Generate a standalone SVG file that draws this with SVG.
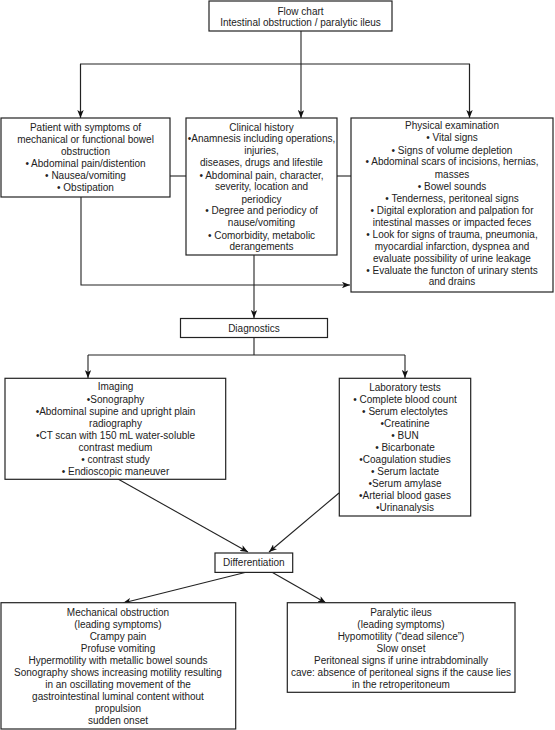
<svg xmlns="http://www.w3.org/2000/svg" width="555" height="730" viewBox="0 0 555 730">
<defs>
<marker id="ah" viewBox="0 0 10 8" refX="10" refY="4" markerWidth="8" markerHeight="6.4" orient="auto" markerUnits="userSpaceOnUse">
<path d="M0,0 L10,4 L0,8 L2.5,4 z" fill="#111"/>
</marker>
<style>
.box{fill:#fff;stroke:#222;stroke-width:1.2}
.t{font-family:"Liberation Sans",Arial,sans-serif;font-size:10px;fill:#222;text-anchor:middle}
.c{fill:none;stroke:#222;stroke-width:1.1}
.a{marker-end:url(#ah)}
</style>
</defs>
<rect width="555" height="730" fill="#fff"/>
<g id="connectors">
<path class="c" d="M301,31 V64"/>
<path class="c" d="M80.5,118 V64 H469.5 V118"/>
<path class="c a" d="M80.5,64 V118"/>
<path class="c a" d="M301,64 V118"/>
<path class="c a" d="M469.5,64 V118"/>
<path class="c" d="M170,176 H186"/>
<path class="c" d="M337,176 H351"/>
<path class="c a" d="M81,197 V285 H350"/>
<path class="c a" d="M254,255 V318"/>
<path class="c" d="M254,338 V355 H88 M254,355 H405"/>
<path class="c a" d="M88,355 V378"/>
<path class="c a" d="M405,355 V378"/>
<path class="c a" d="M118,479 L248,552"/>
<path class="c a" d="M339,493 L269,552"/>
<path class="c a" d="M245,572.5 L123,603"/>
<path class="c a" d="M272.5,572.5 L326,603"/>
</g>
<g id="title">
<rect class="box" x="209" y="1" width="183" height="30"/>
<text class="t" x="300.5" y="14.5">Flow chart</text>
<text class="t" x="300.5" y="25.5">Intestinal obstruction / paralytic ileus</text>
</g>
<g id="patient">
<rect class="box" x="1" y="118" width="169" height="79"/>
<text class="t" x="85.5" y="130.5">Patient with symptoms of</text>
<text class="t" x="85.5" y="142.5">mechanical or functional bowel</text>
<text class="t" x="85.5" y="154.5">obstruction</text>
<text class="t" x="85.5" y="166.5">• Abdominal pain/distention</text>
<text class="t" x="85.5" y="178.5">• Nausea/vomiting</text>
<text class="t" x="85.5" y="190.5">• Obstipation</text>
</g>
<g id="clinical">
<rect class="box" x="186" y="118" width="151" height="137"/>
<text class="t" x="261.5" y="130.5">Clinical history</text>
<text class="t" x="261.5" y="142.2">•Anamnesis including operations,</text>
<text class="t" x="261.5" y="154.2">injuries,</text>
<text class="t" x="261.5" y="166">diseases, drugs and lifestile</text>
<text class="t" x="261.5" y="178.5">• Abdominal pain, character,</text>
<text class="t" x="261.5" y="190.2">severity, location and</text>
<text class="t" x="261.5" y="202.5">periodicy</text>
<text class="t" x="261.5" y="214.2">• Degree and periodicy of</text>
<text class="t" x="261.5" y="226.2">nause/vomiting</text>
<text class="t" x="261.5" y="238.5">• Comorbidity, metabolic</text>
<text class="t" x="261.5" y="250.2">derangements</text>
</g>
<g id="physical">
<rect class="box" x="351" y="118" width="202" height="174"/>
<text class="t" x="452" y="129.2">Physical examination</text>
<text class="t" x="452" y="140.8">• Vital signs</text>
<text class="t" x="452" y="153.5">• Signs of volume depletion</text>
<text class="t" x="452" y="165.2">• Abdominal scars of incisions, hernias,</text>
<text class="t" x="452" y="177.8">masses</text>
<text class="t" x="452" y="189.5">• Bowel sounds</text>
<text class="t" x="452" y="201.8">• Tenderness, peritoneal signs</text>
<text class="t" x="452" y="213.5">• Digital exploration and palpation for</text>
<text class="t" x="452" y="225.8">intestinal masses or impacted feces</text>
<text class="t" x="452" y="237.8">• Look for signs of trauma, pneumonia,</text>
<text class="t" x="452" y="249.5">myocardial infarction, dyspnea and</text>
<text class="t" x="452" y="261.5">evaluate possibility of urine leakage</text>
<text class="t" x="452" y="273.5">• Evaluate the functon of urinary stents</text>
<text class="t" x="452" y="285.2">and drains</text>
</g>
<g id="diagnostics">
<rect class="box" x="180.5" y="318.5" width="147" height="19"/>
<text class="t" x="254" y="331.5">Diagnostics</text>
</g>
<g id="imaging">
<rect class="box" x="5" y="378.3" width="220.7" height="101"/>
<text class="t" x="115.5" y="390.2">Imaging</text>
<text class="t" x="115.5" y="402.5">•Sonography</text>
<text class="t" x="115.5" y="414.5">•Abdominal supine and upright plain</text>
<text class="t" x="115.5" y="426.8">radiography</text>
<text class="t" x="115.5" y="438.5">•CT scan with 150 mL water-soluble</text>
<text class="t" x="115.5" y="450.8">contrast medium</text>
<text class="t" x="115.5" y="462.8">• contrast study</text>
<text class="t" x="115.5" y="474.5">• Endioscopic maneuver</text>
</g>
<g id="lab">
<rect class="box" x="339.3" y="378.3" width="131.4" height="137.7"/>
<text class="t" x="405" y="390.8">Laboratory tests</text>
<text class="t" x="405" y="402.8">• Complete blood count</text>
<text class="t" x="405" y="415.2">• Serum electolytes</text>
<text class="t" x="405" y="426.8">•Creatinine</text>
<text class="t" x="405" y="439.2">• BUN</text>
<text class="t" x="405" y="450.8">• Bicarbonate</text>
<text class="t" x="405" y="462.8">•Coagulation studies</text>
<text class="t" x="405" y="474.5">• Serum lactate</text>
<text class="t" x="405" y="486.8">•Serum amylase</text>
<text class="t" x="405" y="498.8">•Arterial blood gases</text>
<text class="t" x="405" y="510.8">•Urinanalysis</text>
</g>
<g id="differentiation">
<rect class="box" x="215" y="553" width="77.7" height="19.4"/>
<text class="t" x="253.8" y="566">Differentiation</text>
</g>
<g id="mechanical">
<rect class="box" x="1" y="602.7" width="234.7" height="126.3"/>
<text class="t" x="118" y="616.2">Mechanical obstruction</text>
<text class="t" x="118" y="627.8">(leading symptoms)</text>
<text class="t" x="118" y="639.5">Crampy pain</text>
<text class="t" x="118" y="651.8">Profuse vomiting</text>
<text class="t" x="118" y="664.2">Hypermotility with metallic bowel sounds</text>
<text class="t" x="118" y="676.2">Sonography shows increasing motility resulting</text>
<text class="t" x="118" y="688.2">in an oscillating movement of the</text>
<text class="t" x="118" y="700.2">gastrointestinal luminal content without</text>
<text class="t" x="118" y="711.8">propulsion</text>
<text class="t" x="118" y="723.5">sudden onset</text>
</g>
<g id="paralytic">
<rect class="box" x="287.3" y="602.7" width="227.7" height="89.6"/>
<text class="t" x="401" y="616.2">Paralytic ileus</text>
<text class="t" x="401" y="627.5">(leading symptoms)</text>
<text class="t" x="401" y="639.5">Hypomotility (“dead silence”)</text>
<text class="t" x="401" y="651.8">Slow onset</text>
<text class="t" x="401" y="663.5">Peritoneal signs if urine intrabdominally</text>
<text class="t" x="401" y="675.5">cave: absence of peritoneal signs if the cause lies</text>
<text class="t" x="401" y="687.5">in the retroperitoneum</text>
</g>
</svg>
